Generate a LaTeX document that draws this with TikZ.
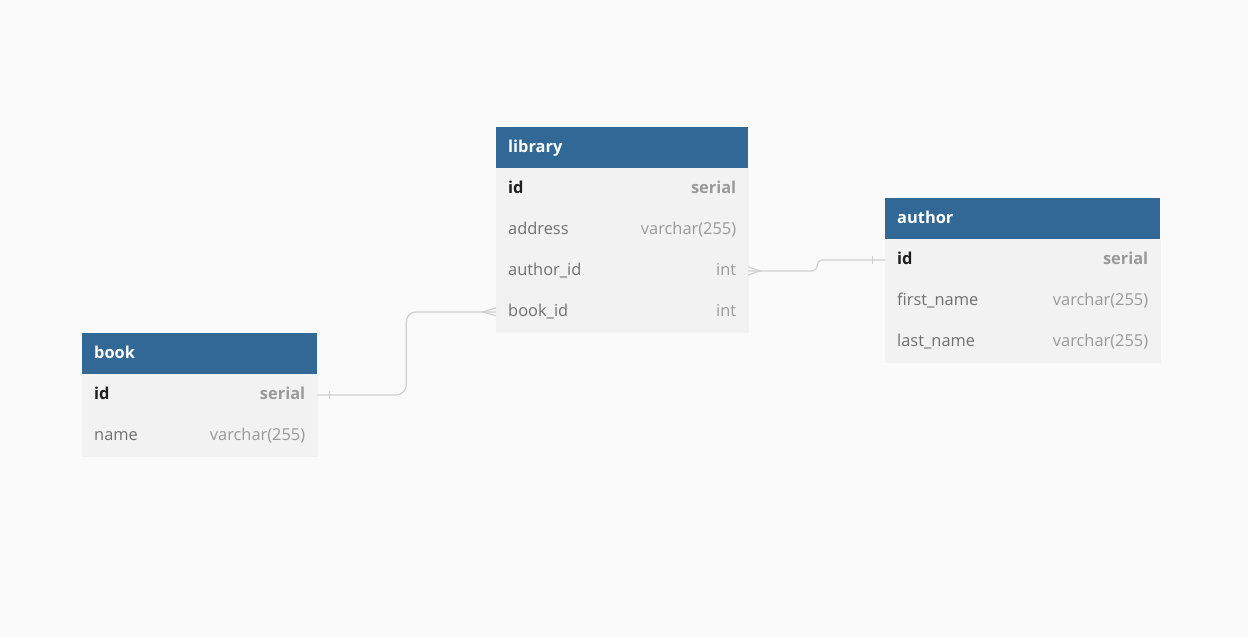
\documentclass[tikz,border=0pt]{standalone}
\usepackage{fontspec}
\setmainfont{Open Sans}
\usetikzlibrary{positioning}

\definecolor{canvas}{HTML}{FAFAFA}
\definecolor{headblue}{HTML}{316896}
\definecolor{rowgray}{HTML}{F2F2F2}
\definecolor{namegray}{HTML}{707070}
\definecolor{typegray}{HTML}{9A9A9A}
\definecolor{keyblack}{HTML}{1E1E1E}
\definecolor{linkgray}{HTML}{CFCFCF}

\newcommand{\fieldtype}[1]{\hfill{\color{typegray}#1}}
\newcommand{\keytype}[1]{\hfill{\color{typegray}\bfseries #1}}

\begin{document}
\begin{tikzpicture}[
      x=1pt, y=-1pt,
      every node/.style={font=\fontsize{16.4}{19}\selectfont, text height=12.5pt, text depth=3.5pt},
      tablehead/.style={anchor=north west, fill=headblue, text=white,
        font=\fontsize{16.4}{19}\selectfont\bfseries, minimum height=41pt,
        inner xsep=12pt, inner ysep=0pt, align=left},
      fieldrow/.style={below=0pt of #1, fill=rowgray, draw=rowgray, line width=0.2pt,
        text=namegray, minimum height=40.8pt, inner xsep=12pt, inner ysep=0pt, align=left},
      keyrow/.style={fieldrow=#1, text=keyblack, font=\fontsize{16.4}{19}\selectfont\bfseries},
      link/.style={draw=linkgray, line width=1.2pt}
    ]
  % background
  \fill[canvas] (0,0) rectangle (1248,637);
  \useasboundingbox (0,0) rectangle (1248,637);

  % library table
  \node[tablehead, text width=228pt] (lib) at (496,127) {library};
  \node[keyrow=lib, text width=228pt] (lib-id) {id\keytype{serial}};
  \node[fieldrow=lib-id, text width=228pt] (lib-address) {address\fieldtype{varchar(255)}};
  \node[fieldrow=lib-address, text width=228pt] (lib-author) {author\_id\fieldtype{int}};
  \node[fieldrow=lib-author, text width=228pt] (lib-book) {book\_id\fieldtype{int}};

  % author table
  \node[tablehead, text width=251pt] (auth) at (885,198) {author};
  \node[keyrow=auth, text width=251pt] (auth-id) {id\keytype{serial}};
  \node[fieldrow=auth-id, text width=251pt] (auth-first) {first\_name\fieldtype{varchar(255)}};
  \node[fieldrow=auth-first, text width=251pt] (auth-last) {last\_name\fieldtype{varchar(255)}};

  % book table
  \node[tablehead, text width=211pt] (book) at (82,333) {book};
  \node[keyrow=book, text width=211pt] (book-id) {id\keytype{serial}};
  \node[fieldrow=book-id, text width=211pt] (book-name) {name\fieldtype{varchar(255)}};

  % library.author_id >- author.id
  \draw[link, rounded corners=5pt] (lib-author.east) -- ++(69,0) |- (auth-id.west);
  \draw[link] ([yshift=4pt]lib-author.east) -- ([xshift=12pt]lib-author.east) -- ([yshift=-4pt]lib-author.east);
  \draw[link] ([xshift=-13pt,yshift=4pt]auth-id.west) -- ([xshift=-13pt,yshift=-4pt]auth-id.west);

  % book.id -< library.book_id
  \draw[link, rounded corners=10pt] (book-id.east) -- ++(89,0) |- (lib-book.west);
  \draw[link] ([xshift=12pt,yshift=4pt]book-id.east) -- ([xshift=12pt,yshift=-4pt]book-id.east);
  \draw[link] ([yshift=4pt]lib-book.west) -- ([xshift=-13pt]lib-book.west) -- ([yshift=-4pt]lib-book.west);
\end{tikzpicture}
\end{document}
